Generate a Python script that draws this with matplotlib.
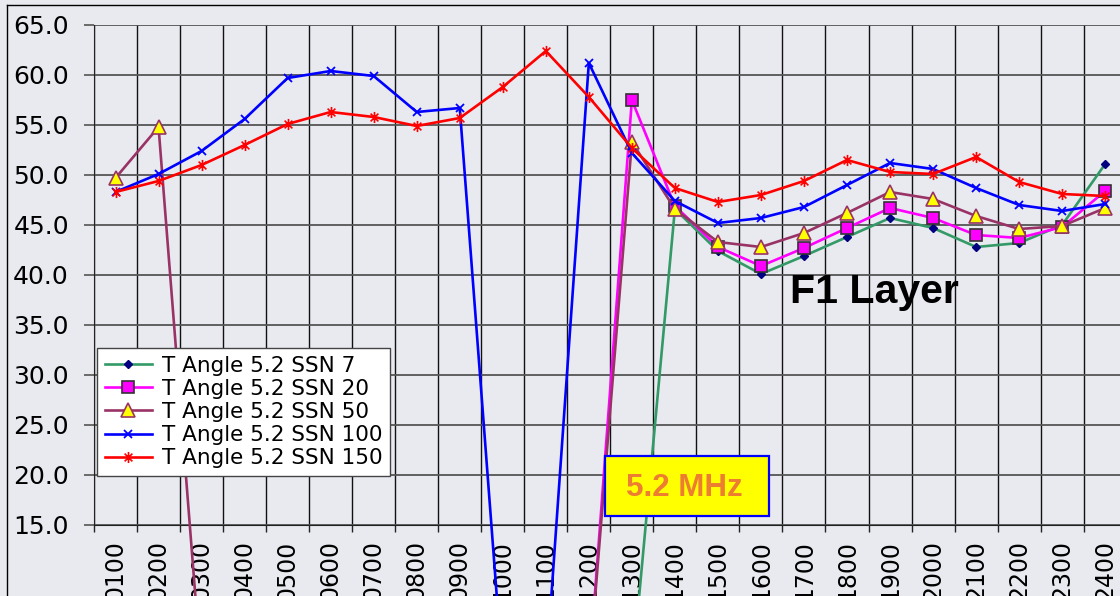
import numpy as np
import matplotlib.pyplot as plt
from matplotlib.path import Path
from matplotlib.patches import Rectangle
from matplotlib.lines import Line2D

plt.rcParams['font.family'] = ['DejaVu Sans']

# Daten
hours = ["0100", "0200", "0300", "0400", "0500", "0600", "0700", "0800",
         "0900", "1000", "1100", "1200", "1300", "1400", "1500", "1600",
         "1700", "1800", "1900", "2000", "2100", "2200", "2300", "2400"]

ssn7 = [0, 0, 0, 0, 0, 0, 0, 0, 0, 0, 0, 0, 0,
        46.6, 42.4, 40.1, 41.9, 43.8, 45.7, 44.7, 42.8, 43.2, 45.0, 51.1]
ssn20 = [0, 0, 0, 0, 0, 0, 0, 0, 0, 0, 0, 0,
         57.5, 46.9, 42.8, 40.9, 42.7, 44.7, 46.7, 45.7, 44.0, 43.7, 44.8, 48.4]
ssn50 = [49.7, 54.8, 0, 0, 0, 0, 0, 0, 0, 0, 0, 0,
         53.3, 46.6, 43.3, 42.8, 44.2, 46.2, 48.3, 47.6, 45.9, 44.6, 44.9, 46.7]
ssn100 = [48.3, 50.1, 52.4, 55.6, 59.7, 60.4, 59.9, 56.3, 56.7, 0, 0, 61.2,
          52.2, 47.4, 45.2, 45.7, 46.8, 49.0, 51.2, 50.6, 48.7, 47.0, 46.4, 47.1]
ssn150 = [48.3, 49.4, 51.0, 53.0, 55.1, 56.3, 55.8, 54.9, 55.7, 58.8, 62.4, 57.8,
          52.7, 48.7, 47.3, 48.0, 49.4, 51.5, 50.3, 50.1, 51.8, 49.3, 48.1, 47.9]

labels = ["T Angle 5.2 SSN 7", "T Angle 5.2 SSN 20", "T Angle 5.2 SSN 50",
          "T Angle 5.2 SSN 100", "T Angle 5.2 SSN 150"]

# Excel-Stern: x plus senkrechter Strich
star = Path([(-0.7, -0.7), (0.7, 0.7), (-0.7, 0.7), (0.7, -0.7), (0, -1), (0, 1)],
            [Path.MOVETO, Path.LINETO] * 3)

styles = [
    dict(color="#339966", marker="D", ms=4.5, mfc="#000080", mec="#000080", mew=1),
    dict(color="#ff00ff", marker="s", ms=8, mfc="#ff00ff", mec="#333333", mew=1.2),
    dict(color="#993366", marker="^", ms=10, mfc="#ffff00", mec="#993366", mew=1.2),
    dict(color="#0000ff", marker="x", ms=6, mew=1.3),
    dict(color="#ff0000", marker=star, ms=8, mew=1.2),
]

W, H = 1120, 596
fig = plt.figure(figsize=(W / 100, H / 100), dpi=100)
fig.patch.set_facecolor("#e8eaf0")

x0, x1, y0, y1 = 94, 1126.7, 25, 525
ax = fig.add_axes([x0 / W, 1 - y1 / H, (x1 - x0) / W, (y1 - y0) / H])
ax.set_facecolor("#e8eaf0")

x = np.arange(len(hours))
for y, st, lab in zip([ssn7, ssn20, ssn50, ssn100, ssn150], styles, labels):
    ax.plot(x, y, lw=1.9, label=lab, clip_on=False, zorder=3, **st)

ax.set_xlim(-0.5, len(hours) - 0.5)
ax.set_ylim(15, 65)

ax.set_yticks(np.arange(15, 66, 5))
ax.set_yticklabels([f"{v:.1f}" for v in np.arange(15, 66, 5)])
ax.set_xticks(x)
ax.set_xticklabels(hours, rotation=90)
ax.set_xticks(np.arange(-0.5, len(hours)), minor=True)

ax.tick_params(axis="y", length=7, width=1.2, color="#555555", labelsize=18, pad=11)
ax.tick_params(axis="x", which="major", length=0, labelsize=17, pad=11)
ax.tick_params(axis="x", which="minor", length=5, width=1, color="#222222")

ax.grid(axis="y", which="major", color="#555555", lw=1.3)
ax.grid(axis="x", which="minor", color="#111111", lw=1.0)
ax.set_axisbelow(True)

for s in ["top", "right"]:
    ax.spines[s].set_visible(False)
ax.spines["left"].set_color("#222222")
ax.spines["bottom"].set_color("#222222")

leg = ax.legend(loc="upper left", bbox_to_anchor=(97 / W, 1 - 348 / H),
                bbox_transform=fig.transFigure, borderaxespad=0, fontsize=15.5,
                fancybox=False, edgecolor="#444444", facecolor="white",
                framealpha=1, handlelength=2.2, handletextpad=0.45,
                labelspacing=0.15, borderpad=0.35)
leg.get_frame().set_linewidth(1)
leg.set_zorder(10)

# Rahmen des Diagrammbereichs
fig.add_artist(Line2D([7 / W, 1], [1 - 5 / H, 1 - 5 / H], color="black", lw=1))
fig.add_artist(Line2D([7 / W, 7 / W], [0, 1 - 5 / H], color="black", lw=1))

fig.text(790 / W, 1 - 302.7 / H, "F1 Layer", fontsize=29.5, fontweight="bold",
         family=["Liberation Sans"], ha="left", va="baseline")

fig.add_artist(Rectangle((605 / W, 1 - 516 / H), 164 / W, 60 / H,
                         transform=fig.transFigure, facecolor="#ffff00",
                         edgecolor="#0000ff", lw=1.6, zorder=5))
fig.text(684 / W, 1 - 496 / H, "5.2 MHz", fontsize=22.5, fontweight="bold",
         color="#ed7d31", family=["Liberation Sans"], ha="center",
         va="baseline", zorder=6)

plt.savefig("out.png", dpi=100)
